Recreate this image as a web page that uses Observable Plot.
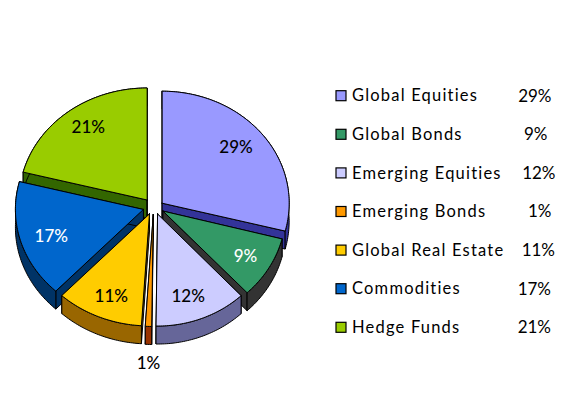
<!DOCTYPE html>
<html><head><meta charset="utf-8">
<script src="https://cdn.jsdelivr.net/npm/d3@7"></script>
<script src="https://cdn.jsdelivr.net/npm/@observablehq/plot@0.6"></script>
<style>html,body{margin:0;padding:0;background:#fff}svg{display:block}</style>
</head><body><div id="chart"></div>
<script>
const categories = ["Global Equities","Global Bonds","Emerging Equities","Emerging Bonds","Global Real Estate","Commodities","Hedge Funds"];
const shares = [29, 9, 12.2, 0.8, 11, 17, 21];
const shareLabels = ["29%","9%","12%","1%","11%","17%","21%"];
const topColors = ["#9999FF","#339966","#CCCCFF","#FF9900","#FFCC00","#0066CC","#99CC00"];
const sideColors = ["#333399","#333333","#666699","#993300","#996600","#003366","#336600"];
const labelColors = ["#000","#fff","#000","#000","#000","#fff","#000"];
const labelRadiusX = [0.73,0.75,0.66,1,0.75,0.75,0.75];
const labelRadiusY = [0.81,0.80,0.79,1.33,0.80,0.86,0.82];
const sliceRx = [127,123,122,128,128,128,128];
const explodeY = [7,7,7,7,7,7,9.5];
const legendPctEnd = [551,547,555,551,554.5,550.5,550.5];
const paintOrder = [6,0,5,1,4,2,3];

const W = 576, H = 401;
const cx = 153.2, cy = 207, ry = 112, depth = 18, ex = 10.7;
const rad = d => d * Math.PI / 180;
const polys = [], pieLabels = [];
let cum = 0;
const slices = shares.map((s, i) => {
  const a0 = cum / 100 * 360; cum += s; const a1 = cum / 100 * 360;
  const mid = rad((a0 + a1) / 2);
  return {i, a0, a1, mid, rx: sliceRx[i], ax: cx + ex * Math.sin(mid), ay: cy - explodeY[i] * Math.cos(mid)};
});
function addPoly(id, color, pts) {
  pts.concat([pts[0]]).forEach(([x, y]) => polys.push({id, color, x, y}));
}
for (const i of paintOrder) {
  const s = slices[i];
  const pt = (a, d = 0) => [s.ax + s.rx * Math.sin(rad(a)), s.ay - ry * Math.cos(rad(a)) + d];
  const arc = [];
  const n = Math.max(2, Math.ceil(s.a1 - s.a0));
  for (let k = 0; k <= n; k++) arc.push(s.a0 + (s.a1 - s.a0) * k / n);
  const side = sideColors[i];
  addPoly(i + "w0", side, [[s.ax, s.ay], pt(s.a0), pt(s.a0, depth), [s.ax, s.ay + depth]]);
  addPoly(i + "w1", side, [[s.ax, s.ay], pt(s.a1), pt(s.a1, depth), [s.ax, s.ay + depth]]);
  addPoly(i + "o", side, arc.map(a => pt(a)).concat(arc.slice().reverse().map(a => pt(a, depth))));
  addPoly(i + "t", topColors[i], [[s.ax, s.ay]].concat(arc.map(a => pt(a))));
}
slices.forEach(s => pieLabels.push({
  text: shareLabels[s.i], color: labelColors[s.i],
  x: s.ax + labelRadiusX[s.i] * 128 * Math.sin(s.mid),
  y: s.ay - labelRadiusY[s.i] * ry * Math.cos(s.mid)
}));
const rowY = i => 95.7 + i * 38.6;
const legend = categories.map((name, i) => ({name, i, y: rowY(i), color: topColors[i], pct: shareLabels[i], end: legendPctEnd[i]}));
const spaced = sp => (index, scales, values, dims, ctx, next) => {
  const g = next(index, scales, values, dims, ctx);
  g.style.letterSpacing = sp;
  return g;
};

const plot = Plot.plot({
  width: W, height: H, margin: 0,
  x: {domain: [0, W], range: [0, W], axis: null},
  y: {domain: [0, H], range: [0, H], axis: null},
  style: {fontFamily: "Lato, sans-serif", background: "#fff"},
  marks: [
    Plot.line(polys, {x: "x", y: "y", z: "id", fill: "color", stroke: "#000", strokeWidth: 1, curve: "linear", strokeLinejoin: "miter"}),
    Plot.text(pieLabels, {x: "x", y: "y", text: "text", fill: "color", fontSize: 17, fontWeight: 500}),
    Plot.rect(legend, {x1: 336, x2: 346, y1: d => d.y - 5, y2: d => d.y + 5, fill: "color", stroke: "#000", strokeWidth: 1.2}),
    Plot.text(legend, {x: 351.5, y: "y", text: "name", textAnchor: "start", fontSize: 16.5, fontWeight: 400, fill: "#000", render: spaced("1.2px")}),
    Plot.text(legend, {x: "end", y: "y", text: "pct", textAnchor: "end", fontSize: 17, fontWeight: 400, fill: "#000"})
  ]
});
document.getElementById("chart").appendChild(plot);
</script></body></html>
